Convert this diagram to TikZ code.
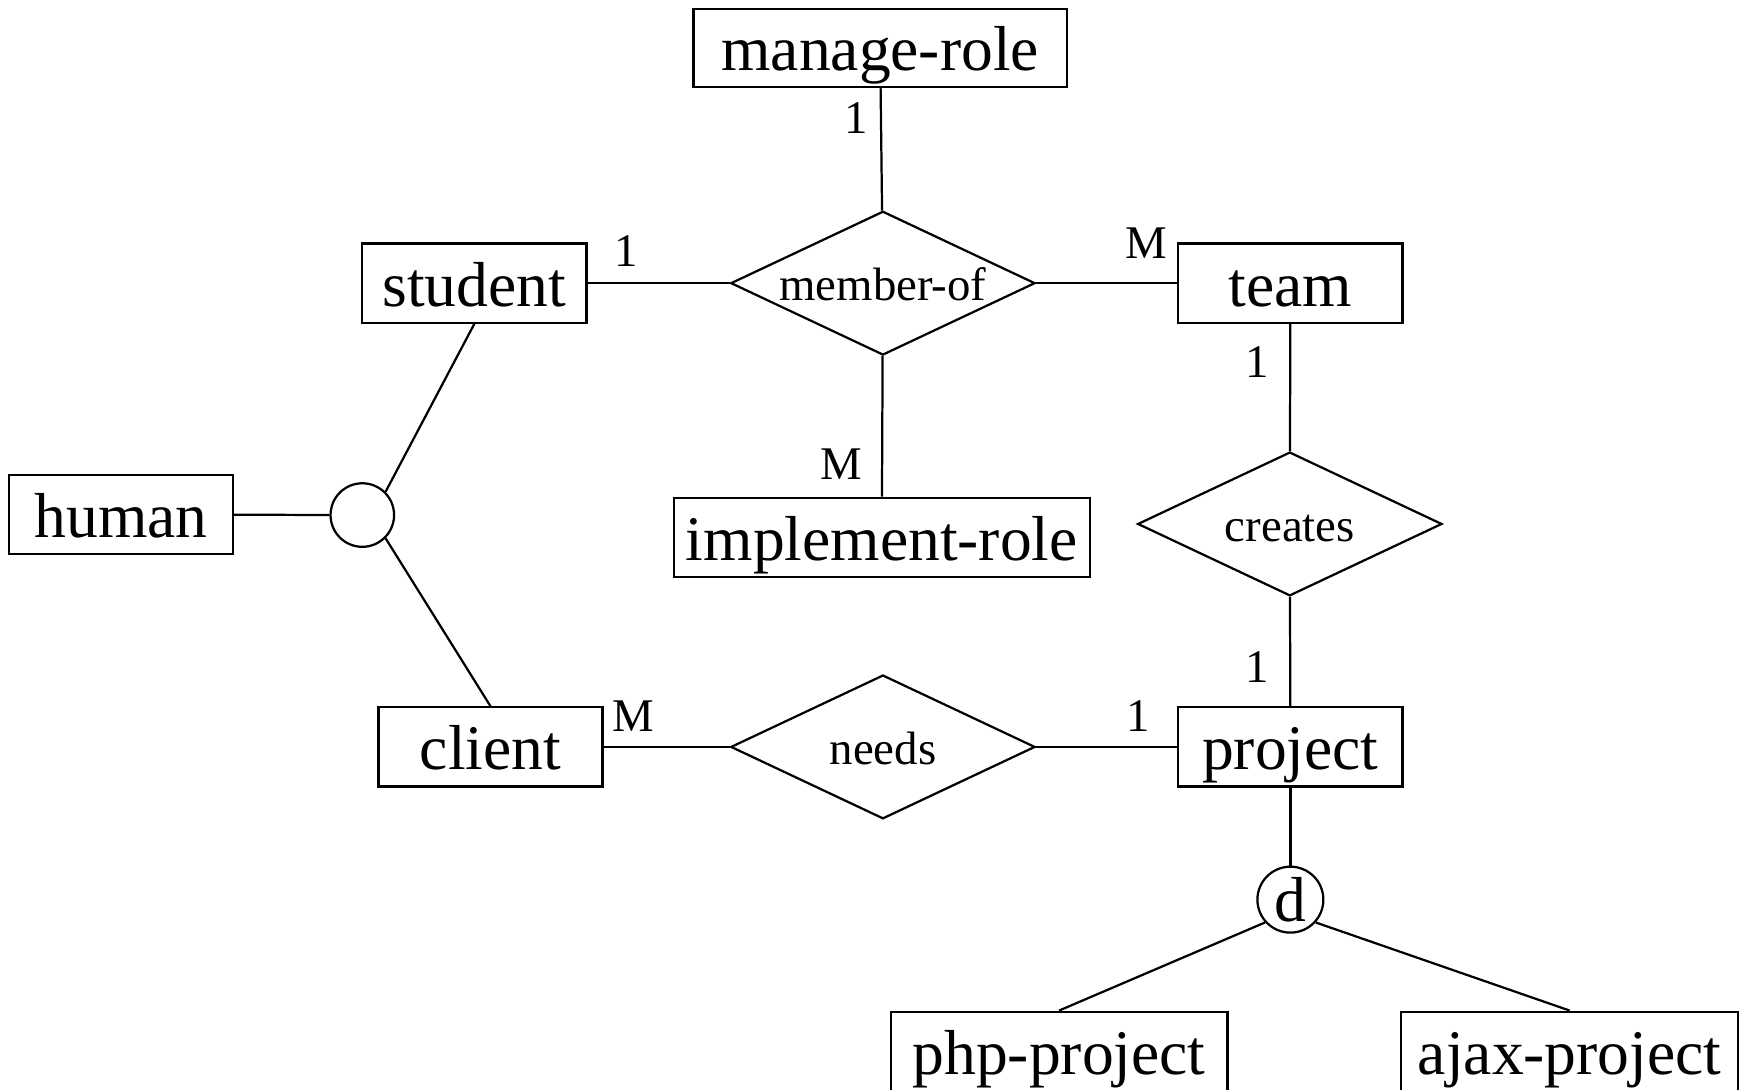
\documentclass[tikz,border=0pt]{standalone}
\usepackage{fontspec}
\setmainfont{Liberation Serif}
\usetikzlibrary{shapes.geometric}
\tikzset{
  bigfont/.style={font=\fontsize{57}{60}\selectfont},
  smallfont/.style={font=\fontsize{42}{45}\selectfont},
  entity/.style={draw, line width=2pt, rectangle, inner sep=0pt, bigfont,
    minimum height=71pt, text height=50pt, text depth=9pt},
  relation/.style={draw, line width=2pt, diamond, inner sep=0pt, smallfont,
    minimum width=273pt, minimum height=129pt, text height=36pt, text depth=5pt},
  isacircle/.style={draw, line width=2pt, circle, inner sep=0pt, bigfont,
    minimum size=57pt, text height=46pt, text depth=6pt},
  card/.style={smallfont, anchor=base, inner sep=0pt},
  conn/.style={line width=2pt}
}
\begin{document}
\begin{tikzpicture}[x=1pt,y=-1pt]
\useasboundingbox (0,0) rectangle (1568,977);
% entities
\node[entity, minimum width=335pt, minimum height=70pt] (mrole) at (789.5,43) {manage-role};
\node[entity, minimum width=201pt] (student) at (425.5,254) {student};
\node[entity, minimum width=201pt] (team) at (1157.5,254) {team};
\node[entity, minimum width=201pt] (human) at (108.5,461.5) {human};
\node[entity, minimum width=373pt] (irole) at (791,482) {implement-role};
\node[entity, minimum width=201pt] (client) at (440,670) {client};
\node[entity, minimum width=201pt] (project) at (1157.5,670) {project};
\node[entity, minimum width=302pt] (php) at (950,943) {php-project};
\node[entity, minimum width=302pt] (ajax) at (1408,943) {ajax-project};
% relations
\node[relation] (memberof) at (792,254) {\makebox[0pt]{member-of}};
\node[relation] (creates) at (1157,470) {\makebox[0pt]{creates}};
\node[relation] (needs) at (792,670) {\makebox[0pt]{needs}};
% specialisation circles
\node[isacircle] (isa) at (325,462) {};
\node[isacircle] (disj) at (1157.5,807) {d};
% connectors
\draw[conn] (mrole) -- (memberof);
\draw[conn] (student) -- (memberof);
\draw[conn] (memberof) -- (team);
\draw[conn] (memberof) -- (irole);
\draw[conn] (team) -- (creates);
\draw[conn] (creates) -- (project);
\draw[conn] (client) -- (needs);
\draw[conn] (needs) -- (project);
\draw[conn] (project) -- (disj);
\draw[conn] (disj.222) -- (php.north);
\draw[conn] (disj.318) -- (ajax.north);
\draw[conn] (human) -- (isa);
\draw[conn] (student.south) -- (isa.45);
\draw[conn] (isa.-45) -- (client.north);
% cardinalities
\node[card] (c1) at (768,119.5) {1};
\node[card] (c2) at (562,239) {1};
\node[card] (c3) at (1028,232) {M};
\node[card] (c4) at (1128,339) {1};
\node[card] (c5) at (755,430) {M};
\node[card] (c6) at (1128,612) {1};
\node[card] (c7) at (568,656) {M};
\node[card] (c8) at (1021,656) {1};
\end{tikzpicture}
\end{document}
